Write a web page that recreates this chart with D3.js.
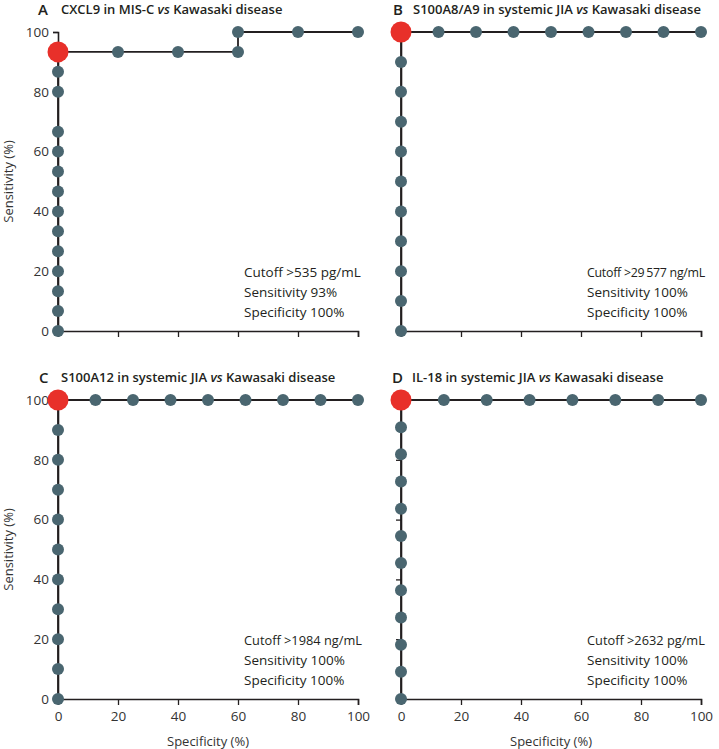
<!DOCTYPE html>
<html><head><meta charset="utf-8">
<script src="https://cdn.jsdelivr.net/npm/d3@7"></script>
<style>
body{margin:0;background:#fff;}
svg{display:block;font-family:"Open Sans","Noto Sans",sans-serif;}
</style></head>
<body><svg id="c" width="719" height="749"></svg>
<script>
// ---- data ----
const xTicks = [0, 20, 40, 60, 80, 100];
const yTicks = [0, 20, 40, 60, 80, 100];

const panelLetters = ["A", "B", "C", "D"];
const panelMarker = ["CXCL9 in MIS-C ", "S100A8/A9 in systemic JIA ", "S100A12 in systemic JIA ", "IL-18 in systemic JIA "];
const panelTail = "Kawasaki disease";

// Panel A: CXCL9 (15 MIS-C, 5 KD)
const specA = [0,0,0,0,0,0,0,0,0,0,0,0,0,0,20,40,60,60,80,100];
const sensA = [0,6.67,13.33,20,26.67,33.33,40,46.67,53.33,60,66.67,80,86.67,93.33,93.33,93.33,93.33,100,100,100];
const cutA = [0, 93.33];
// Panel B: S100A8/A9 (10 sJIA, 8 KD)
const specB = [0,0,0,0,0,0,0,0,0,0,0,12.5,25,37.5,50,62.5,75,87.5,100];
const sensB = [0,10,20,30,40,50,60,70,80,90,100,100,100,100,100,100,100,100,100];
const cutB = [0, 100];
// Panel C: S100A12 (10 sJIA, 8 KD)
const specC = [0,0,0,0,0,0,0,0,0,0,0,12.5,25,37.5,50,62.5,75,87.5,100];
const sensC = [0,10,20,30,40,50,60,70,80,90,100,100,100,100,100,100,100,100,100];
const cutC = [0, 100];
// Panel D: IL-18 (11 sJIA, 7 KD)
const specD = [0,0,0,0,0,0,0,0,0,0,0,0,14.29,28.57,42.86,57.14,71.43,85.71,100];
const sensD = [0,9.09,18.18,27.27,36.36,45.45,54.55,63.64,72.73,81.82,90.91,100,100,100,100,100,100,100,100];
const cutD = [0, 100];

const notesA = ["Cutoff >535 pg/mL", "Sensitivity 93%", "Specificity 100%"];
const notesB = ["Cutoff >29\u2009577 ng/mL", "Sensitivity 100%", "Specificity 100%"];
const notesC = ["Cutoff >1984 ng/mL", "Sensitivity 100%", "Specificity 100%"];
const notesD = ["Cutoff >2632 pg/mL", "Sensitivity 100%", "Specificity 100%"];

const xLabel = "Specificity (%)";
const yLabel = "Sensitivity (%)";

// ---- drawing ----
const svg = d3.select("#c");
const PT = "#4a6670", RED = "#e8302a", INK = "#231f20", TXT = "#333";

const panels = [
  {spec: specA, sens: sensA, cut: cutA, notes: notesA, x0: 58, y0: 32, yLab: true, xLab: false, lx: -20, tx: 3},
  {spec: specB, sens: sensB, cut: cutB, notes: notesB, x0: 401, y0: 32, yLab: false, xLab: false, lx: -8, tx: 12},
  {spec: specC, sens: sensC, cut: cutC, notes: notesC, x0: 58, y0: 400, yLab: true, xLab: true, lx: -19, tx: 3},
  {spec: specD, sens: sensD, cut: cutD, notes: notesD, x0: 401, y0: 400, yLab: false, xLab: true, lx: -9, tx: 11}
];
const W = 300, H = 299;

panels.forEach((p, i) => {
  const g = svg.append("g").attr("transform", `translate(${p.x0},${p.y0})`);
  const x = d3.scaleLinear().domain([0, 100]).range([0, W]);
  const y = d3.scaleLinear().domain([0, 100]).range([H, 0]);

  // title
  const t = svg.append("g").attr("transform", `translate(${p.x0},${p.y0 - 17})`);
  t.append("text").attr("x", p.lx).attr("y", 0).attr("font-size", 15).attr("font-weight", 600)
    .attr("fill", INK).text(panelLetters[i]);
  const tt = t.append("text").attr("x", p.tx).attr("y", -1).attr("font-size", 13)
    .attr("font-weight", 600).attr("fill", INK);
  tt.append("tspan").text(panelMarker[i]);
  tt.append("tspan").attr("font-style", "italic").text("vs ");
  tt.append("tspan").text(panelTail);

  // axes
  const xa = d3.axisBottom(x).tickValues(xTicks).tickSize(6).tickPadding(6)
    .tickFormat(p.xLab ? d3.format("d") : () => "");
  const ya = d3.axisLeft(y).tickValues(yTicks).tickSize(5).tickPadding(4)
    .tickFormat(p.yLab ? d3.format("d") : () => "");
  const gx = g.append("g").attr("transform", `translate(0,${H})`).call(xa);
  const gy = g.append("g").call(ya);
  [gx, gy].forEach(a => {
    a.select(".domain").attr("stroke", INK).attr("stroke-width", 1.6);
    a.selectAll(".tick line").attr("stroke", INK).attr("stroke-width", 1.3);
    a.selectAll(".tick text").attr("fill", TXT).attr("font-size", 13.5)
      .attr("font-family", '"Open Sans","Noto Sans",sans-serif');
  });

  if (p.xLab) {
    g.append("text").attr("x", W / 2).attr("y", H + 47).attr("text-anchor", "middle")
      .attr("font-size", 13).attr("fill", TXT).text(xLabel);
  }
  if (p.yLab) {
    g.append("text").attr("transform", `translate(${-45},${H / 2}) rotate(-90)`)
      .attr("text-anchor", "middle").attr("font-size", 13).attr("fill", TXT).text(yLabel);
  }

  // curve
  const pts = p.spec.map((s, k) => [s, p.sens[k]]);
  g.append("path").datum(pts)
    .attr("d", d3.line().x(d => x(d[0])).y(d => y(d[1])))
    .attr("fill", "none").attr("stroke", INK).attr("stroke-width", 1.8);

  g.selectAll("circle.pt").data(pts.filter(d => !(d[0] === p.cut[0] && d[1] === p.cut[1])))
    .join("circle").attr("class", "pt")
    .attr("cx", d => x(d[0])).attr("cy", d => y(d[1])).attr("r", 6).attr("fill", PT);
  g.append("circle").attr("cx", x(p.cut[0])).attr("cy", y(p.cut[1])).attr("r", 10.5).attr("fill", RED);

  // notes
  const maxW = W + 4 - 186;
  p.notes.forEach((n, k) => {
    const el = g.append("text").attr("font-size", 13.5).attr("fill", INK)
      .attr("x", 186).attr("y", 245 + k * 20).text(n);
    let len = el.node().getComputedTextLength();
    if (len > maxW) {
      const fs = 13.5 * maxW / len;
      el.attr("font-size", Math.max(12.4, fs));
      len = el.node().getComputedTextLength();
      if (len > maxW) el.attr("letter-spacing", ((maxW - len) / n.length).toFixed(2));
    }
  });
});
</script></body></html>
